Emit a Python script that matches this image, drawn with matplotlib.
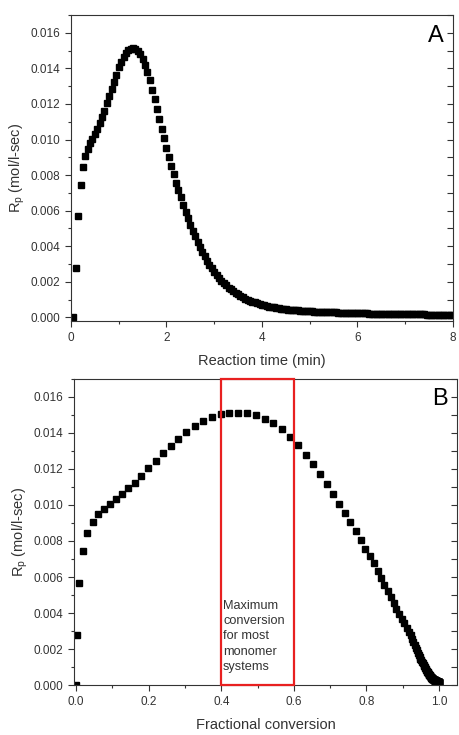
import matplotlib
import matplotlib.pyplot as plt
import numpy as np
from matplotlib.patches import Rectangle
from matplotlib.ticker import FormatStrFormatter, MultipleLocator

matplotlib.use("Agg")

# sampled reaction times (min)
time_min = [
    0.05, 0.10, 0.15, 0.20, 0.25, 0.30, 0.35, 0.40, 0.45, 0.50,
    0.55, 0.60, 0.65, 0.70, 0.75, 0.80, 0.85, 0.90, 0.95, 1.00,
    1.05, 1.10, 1.15, 1.20, 1.25, 1.30, 1.35, 1.40, 1.45, 1.50,
    1.55, 1.60, 1.65, 1.70, 1.75, 1.80, 1.85, 1.90, 1.95, 2.00,
    2.05, 2.10, 2.15, 2.20, 2.25, 2.30, 2.35, 2.40, 2.45, 2.50,
    2.55, 2.60, 2.65, 2.70, 2.75, 2.80, 2.85, 2.90, 2.95, 3.00,
    3.05, 3.10, 3.15, 3.20, 3.25, 3.30, 3.35, 3.40, 3.45, 3.50,
    3.55, 3.60, 3.65, 3.70, 3.75, 3.80, 3.85, 3.90, 3.95, 4.00,
    4.05, 4.10, 4.15, 4.20, 4.25, 4.30, 4.35, 4.40, 4.45, 4.50,
    4.55, 4.60, 4.65, 4.70, 4.75, 4.80, 4.85, 4.90, 4.95, 5.00,
    5.05, 5.10, 5.15, 5.20, 5.25, 5.30, 5.35, 5.40, 5.45, 5.50,
    5.55, 5.60, 5.65, 5.70, 5.75, 5.80, 5.85, 5.90, 5.95, 6.00,
    6.05, 6.10, 6.15, 6.20, 6.25, 6.30, 6.35, 6.40, 6.45, 6.50,
    6.55, 6.60, 6.65, 6.70, 6.75, 6.80, 6.85, 6.90, 6.95, 7.00,
    7.05, 7.10, 7.15, 7.20, 7.25, 7.30, 7.35, 7.40, 7.45, 7.50,
    7.55, 7.60, 7.65, 7.70, 7.75, 7.80, 7.85, 7.90, 7.95, 8.00,
]

# polymerization rate Rp, in units of 1e-3 mol/l-sec
rate_e3 = [
    0.00, 2.80, 5.68, 7.44, 8.44, 9.06, 9.49, 9.79, 10.05, 10.33,
    10.60, 10.92, 11.24, 11.63, 12.03, 12.46, 12.86, 13.26, 13.65, 14.05,
    14.38, 14.66, 14.89, 15.03, 15.11, 15.13, 15.10, 14.99, 14.80, 14.53,
    14.20, 13.78, 13.32, 12.80, 12.27, 11.72, 11.16, 10.60, 10.08, 9.55,
    9.03, 8.53, 8.05, 7.58, 7.16, 6.75, 6.34, 5.95, 5.58, 5.22,
    4.88, 4.56, 4.25, 3.96, 3.69, 3.43, 3.19, 2.97, 2.76, 2.57,
    2.39, 2.22, 2.07, 1.93, 1.80, 1.68, 1.57, 1.47, 1.37, 1.29,
    1.21, 1.13, 1.06, 1.00, 0.94, 0.89, 0.84, 0.79, 0.75, 0.71,
    0.67, 0.64, 0.61, 0.58, 0.56, 0.53, 0.51, 0.49, 0.47, 0.46,
    0.44, 0.43, 0.41, 0.40, 0.39, 0.38, 0.37, 0.36, 0.35, 0.34,
    0.335, 0.33, 0.32, 0.315, 0.31, 0.305, 0.30, 0.295, 0.29, 0.285,
    0.28, 0.275, 0.27, 0.265, 0.26, 0.255, 0.25, 0.245, 0.24, 0.235,
    0.23, 0.228, 0.225, 0.222, 0.22, 0.217, 0.214, 0.211, 0.208, 0.205,
    0.202, 0.199, 0.196, 0.193, 0.19, 0.188, 0.186, 0.184, 0.182, 0.18,
    0.178, 0.176, 0.174, 0.172, 0.17, 0.168, 0.166, 0.164, 0.162, 0.16,
    0.158, 0.156, 0.154, 0.152, 0.15, 0.148, 0.146, 0.144, 0.142, 0.14,
]

# fractional conversion at each sample
conversion = [
    0.000, 0.002, 0.008, 0.019, 0.031, 0.046, 0.061, 0.077, 0.092, 0.109,
    0.125, 0.143, 0.161, 0.180, 0.199, 0.219, 0.240, 0.261, 0.282, 0.304,
    0.327, 0.350, 0.374, 0.398, 0.422, 0.447, 0.472, 0.496, 0.520, 0.544,
    0.567, 0.589, 0.612, 0.633, 0.653, 0.672, 0.691, 0.709, 0.726, 0.742,
    0.756, 0.771, 0.785, 0.797, 0.809, 0.820, 0.831, 0.841, 0.850, 0.859,
    0.867, 0.876, 0.883, 0.891, 0.898, 0.904, 0.911, 0.917, 0.922, 0.926,
    0.930, 0.933, 0.936, 0.939, 0.942, 0.945, 0.947, 0.949, 0.952, 0.954,
    0.956, 0.958, 0.959, 0.961, 0.962, 0.964, 0.965, 0.966, 0.968, 0.969,
    0.970, 0.971, 0.972, 0.973, 0.974, 0.975, 0.975, 0.976, 0.977, 0.977,
    0.978, 0.978, 0.979, 0.980, 0.980, 0.981, 0.981, 0.982, 0.982, 0.983,
    0.984, 0.984, 0.985, 0.985, 0.985, 0.986, 0.986, 0.987, 0.987, 0.987,
    0.988, 0.988, 0.988, 0.989, 0.989, 0.989, 0.990, 0.990, 0.990, 0.991,
    0.991, 0.991, 0.992, 0.992, 0.992, 0.992, 0.993, 0.993, 0.993, 0.994,
    0.994, 0.994, 0.994, 0.995, 0.995, 0.995, 0.995, 0.996, 0.996, 0.996,
    0.996, 0.997, 0.997, 0.997, 0.997, 0.997, 0.998, 0.998, 0.998, 0.998,
    0.998, 0.999, 0.999, 0.999, 0.999, 0.999, 1.000, 1.000, 1.000, 1.000,
]

max_conv_window = [0.4, 0.6]  # "maximum conversion" band in panel B
note_text = "Maximum\nconversion\nfor most\nmonomer\nsystems"

rate = np.array(rate_e3) * 1e-3

plt.rcParams["font.family"] = ["Liberation Sans", "DejaVu Sans"]
plt.rcParams["axes.edgecolor"] = "#333333"
plt.rcParams["axes.linewidth"] = 0.8
plt.rcParams["xtick.color"] = "#333333"
plt.rcParams["ytick.color"] = "#333333"
plt.rcParams["text.color"] = "#333333"

TEXT = "#333333"
ylab = r"R$_\mathregular{p}$ (mol/l-sec)"


def style_axes(ax, x_major, x_minor):
    ax.xaxis.set_major_locator(MultipleLocator(x_major))
    ax.xaxis.set_minor_locator(MultipleLocator(x_minor))
    ax.yaxis.set_major_locator(MultipleLocator(0.002))
    ax.yaxis.set_minor_locator(MultipleLocator(0.001))
    ax.yaxis.set_major_formatter(FormatStrFormatter("%.3f"))
    ax.tick_params(axis="both", which="both", labelsize=8.5, width=0.8)
    ax.tick_params(axis="x", which="both", direction="out", top=False)
    ax.tick_params(axis="y", which="both", direction="out", left=True, right=False)
    ax.tick_params(which="major", length=4.5)
    ax.tick_params(which="minor", length=2.5)
    # inward ticks on the right spine, Origin style
    sec = ax.secondary_yaxis("right")
    sec.yaxis.set_major_locator(MultipleLocator(0.002))
    sec.yaxis.set_minor_locator(MultipleLocator(0.001))
    sec.tick_params(which="both", direction="in", labelright=False, width=0.8)
    sec.tick_params(which="major", length=4)
    sec.tick_params(which="minor", length=4)
    sec.spines["right"].set_visible(False)


fig = plt.figure(figsize=(4.6, 7.35), dpi=100)

# Panel A: rate vs time
ax1 = fig.add_axes([0.1543, 0.5633, 0.8304, 0.4163])
ax1.plot(time_min, rate, linestyle="none", marker="s", markersize=4.9, color="black")
ax1.set_xlim(0, 8)
ax1.set_ylim(-0.0002, 0.017)
style_axes(ax1, 2, 1)
ax1.xaxis.set_major_formatter(FormatStrFormatter("%d"))
ax1.set_xlabel("Reaction time (min)", fontsize=10.5, color=TEXT, labelpad=7)
ax1.set_ylabel(ylab, fontsize=10.5, color=TEXT, labelpad=2)
ax1.text(0.955, 0.93, "A", transform=ax1.transAxes, fontsize=17,
         ha="center", va="center", color="black")

# Panel B: rate vs conversion
ax2 = fig.add_axes([0.1609, 0.068, 0.8326, 0.4164])
ax2.plot(conversion, rate, linestyle="none", marker="s", markersize=4.9, color="black")
ax2.set_xlim(-0.006, 1.05)
ax2.set_ylim(0, 0.017)
style_axes(ax2, 0.2, 0.1)
ax2.xaxis.set_major_formatter(FormatStrFormatter("%.1f"))
ax2.set_xlabel("Fractional conversion", fontsize=10.5, color=TEXT, labelpad=7)
ax2.set_ylabel(ylab, fontsize=10.5, color=TEXT, labelpad=2)
ax2.text(0.955, 0.935, "B", transform=ax2.transAxes, fontsize=17,
         ha="center", va="center", color="black")

ax2.add_patch(Rectangle((max_conv_window[0], 0), max_conv_window[1] - max_conv_window[0], 0.017,
                        fill=False, edgecolor="#e82020", linewidth=1.6, clip_on=False, zorder=3))
ax2.text(max_conv_window[0] + 0.005, 0.00475, note_text, fontsize=9.2, color=TEXT,
         ha="left", va="top", linespacing=1.38)

fig.savefig("out.png", dpi=100)
